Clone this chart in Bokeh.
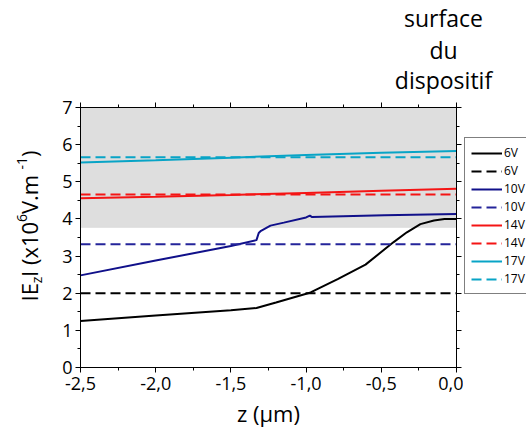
import numpy as np
from bokeh.plotting import figure
from bokeh.layouts import row, column
from bokeh.models import (Range1d, LinearAxis, FixedTicker, Legend, LegendItem,
                          Label, BoxAnnotation)
from bokeh.embed import file_html
from bokeh.resources import INLINE

# ---- data -------------------------------------------------------------
z_6v = [-2.5, -2.0, -1.5, -1.33, -1.2, -0.97, -0.79, -0.605, -0.42, -0.33, -0.24, -0.15, -0.08, 0.0]
e_6v = [1.25, 1.40, 1.54, 1.60, 1.75, 2.02, 2.38, 2.77, 3.37, 3.64, 3.86, 3.96, 4.00, 4.00]
z_10v = [-2.5, -2.0, -1.5, -1.33, -1.315, -1.30, -1.237, -1.148, -1.0, -0.975, -0.96, -0.48, 0.0]
e_10v = [2.48, 2.88, 3.27, 3.43, 3.62, 3.68, 3.82, 3.90, 4.04, 4.09, 4.05, 4.10, 4.13]
z_14v = [-2.5, -2.0, -1.5, -1.0, -0.5, 0.0]
e_14v = [4.56, 4.60, 4.645, 4.70, 4.76, 4.81]
z_17v = [-2.5, -2.0, -1.5, -1.0, -0.5, 0.0]
e_17v = [5.52, 5.58, 5.65, 5.72, 5.78, 5.83]
z_span = [-2.5, 0.0]
level_6v = 2.0
level_10v = 3.32
level_14v = 4.66
level_17v = 5.66
band_bottom = 3.77
x_ticks = [-2.5, -2.0, -1.5, -1.0, -0.5, 0.0]
x_tick_labels = ["-2,5", "-2,0", "-1,5", "-1,0", "-0,5", "0,0"]
y_ticks = [0, 1, 2, 3, 4, 5, 6, 7]
legend_labels = ["6V", "6V", "10V", "10V", "14V", "14V", "17V", "17V"]

FONT = "Open Sans"
C_BLACK = "#000000"
C_NAVY = "#10108a"
C_NAVY_D = "#24249a"
C_RED = "#f41414"
C_CYAN = "#08a4c6"

series = [
    (z_6v, e_6v, C_BLACK, "solid"),
    (z_span, [level_6v] * 2, C_BLACK, "10 5"),
    (z_10v, e_10v, C_NAVY, "solid"),
    (z_span, [level_10v] * 2, C_NAVY_D, "10 5"),
    (z_14v, e_14v, C_RED, "solid"),
    (z_span, [level_14v] * 2, C_RED, "10 5"),
    (z_17v, e_17v, C_CYAN, "solid"),
    (z_span, [level_17v] * 2, C_CYAN, "10 5"),
]


def strip(w, h):
    f = figure(width=w, height=h, output_backend="svg", toolbar_location=None,
               x_range=Range1d(0, 1), y_range=Range1d(0, 1),
               x_axis_type=None, y_axis_type=None, min_border=0)
    f.title.visible = False
    f.outline_line_color = None
    f.background_fill_color = "white"
    f.border_fill_color = "white"
    return f


# ---- main plot ----------------------------------------------------------
p = figure(width=417, height=336, output_backend="svg", toolbar_location=None,
           x_range=Range1d(-2.5, 0.0), y_range=Range1d(0, 7),
           min_border_left=34, min_border_right=7, min_border_top=13,
           min_border_bottom=63)
p.title.visible = False
p.xgrid.visible = False
p.ygrid.visible = False
p.outline_line_color = "black"
p.outline_line_width = 1
p.background_fill_color = "white"
p.border_fill_color = "white"

p.add_layout(BoxAnnotation(bottom=band_bottom, fill_color="#dedede", fill_alpha=1.0,
                           line_color="#c8c8c8", line_width=1, level="underlay"))

xt = FixedTicker(ticks=x_ticks, minor_ticks=list(np.arange(-2.5, 0.01, 0.25)))
yt = FixedTicker(ticks=y_ticks, minor_ticks=list(np.arange(0, 7.01, 0.5)))


def style_axis(ax, labels=True):
    ax.major_tick_out = 5
    ax.major_tick_in = 0
    ax.minor_tick_out = 3
    ax.minor_tick_in = 0
    ax.axis_line_color = "black"
    ax.major_tick_line_color = "black"
    ax.minor_tick_line_color = "black"
    ax.major_label_text_font = FONT
    ax.major_label_text_color = "black"
    if labels:
        ax.major_label_text_font_size = "18px"
    else:
        ax.major_label_text_font_size = "0px"
        ax.major_label_standoff = 0


p.xaxis.ticker = xt
p.xaxis.major_label_overrides = {t: l for t, l in zip(x_ticks, x_tick_labels)}
p.yaxis.ticker = yt
style_axis(p.xaxis[0])
style_axis(p.yaxis[0])
p.xaxis.major_label_standoff = 4
p.yaxis.major_label_standoff = 3
p.xaxis.axis_label = "z (µm)"
p.xaxis.axis_label_text_font = FONT
p.xaxis.axis_label_text_font_size = "22px"
p.xaxis.axis_label_text_font_style = "normal"
p.xaxis.axis_label_text_color = "black"
p.xaxis.axis_label_standoff = 5

ax_r = LinearAxis(ticker=yt, major_label_overrides={t: "" for t in y_ticks})
style_axis(ax_r, labels=False)
p.add_layout(ax_r, "right")
ax_t = LinearAxis(ticker=xt, major_label_overrides={t: "" for t in x_ticks})
style_axis(ax_t, labels=False)
p.add_layout(ax_t, "above")

for zs, es, c, d in series:
    p.line(zs, es, line_color=c, line_width=2, line_dash=d)

# ---- right strip with the legend (same series, drawn out of its view) ---
fr = strip(63, 336)
proxies = [fr.line(zs, es, line_color=c, line_width=2, line_dash=d)
           for zs, es, c, d in series]
items = [LegendItem(label=l, renderers=[r]) for l, r in zip(legend_labels, proxies)]
legend = Legend(items=items, location=(1, 73), border_line_color="black",
                border_line_width=1, background_fill_color="white",
                background_fill_alpha=1.0, label_text_font=FONT,
                label_text_font_size="12px", label_text_color="black",
                glyph_width=31, glyph_height=16,
                label_height=16, spacing=1, padding=6, margin=0, label_standoff=2)
fr.add_layout(legend)

# ---- left strip with the y-axis title (sub/superscripts) ---------------
fy = strip(46, 336)
pieces = [("IE", 28.5, 66, "22px"), ("z", 36, 84.3, "14px"),
          ("I (x10", 28.5, 90.6, "22px"), ("6", 21, 145.4, "14px"),
          (" V.m", 28.5, 153.4, "22px"), ("-1", 21, 198, "14px"),
          (")", 28.5, 210.5, "22px")]
for txt, x, y, fs in pieces:
    fy.add_layout(Label(x=x, y=y, x_units="screen", y_units="screen", text=txt,
                        angle=np.pi / 2, text_font=FONT, text_font_size=fs,
                        text_align="left", text_baseline="alphabetic",
                        text_color="black"))

# ---- top strip with the annotation text --------------------------------
ft = strip(526, 94)
for txt, y in [("surface", 77), ("du", 45), ("dispositif", 15)]:
    ft.add_layout(Label(x=443, y=y, x_units="screen", y_units="screen", text=txt,
                        text_font=FONT, text_font_size="23px", text_align="center",
                        text_baseline="alphabetic", text_color="black"))

layout = column(ft, row(fy, p, fr, spacing=0), spacing=0)
open("out.html", "w").write(file_html(layout, INLINE))
